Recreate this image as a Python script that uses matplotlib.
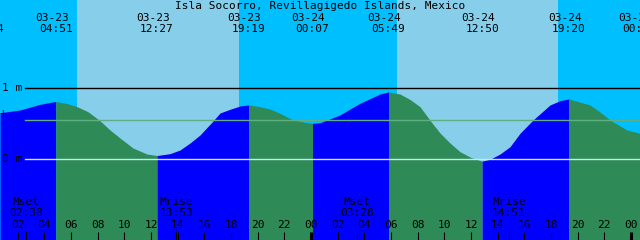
import matplotlib
matplotlib.use('Agg')
import matplotlib.pyplot as plt
import numpy as np

title = 'Isla Socorro, Revillagigedo Islands, Mexico'

# tide curve (hours from 03-23 00:00, metres)
tide_hours = [0.675, 2.175, 3.675, 4.85, 5.7, 6.45, 7.275, 8.175, 8.925, 9.675, 10.65, 11.7,
              12.45, 13.425, 14.175, 14.925, 15.675, 16.65, 17.175, 17.925, 18.675, 19.317,
              20.175, 20.925, 21.675, 22.65, 23.7, 24.117, 24.675, 26.175, 26.925, 27.675,
              29.175, 29.817, 30.675, 31.425, 32.175, 32.925, 33.675, 34.425, 35.175, 36.0,
              36.833, 37.425, 38.175, 38.925, 39.675, 40.65, 41.925, 42.675, 43.333, 44.925,
              45.675, 46.425, 47.7, 48.675]
tide_height = [0.652, 0.69, 0.77, 0.81, 0.782, 0.737, 0.666, 0.539, 0.408, 0.296, 0.155, 0.07,
               0.049, 0.075, 0.127, 0.225, 0.338, 0.535, 0.648, 0.70, 0.746, 0.762,
               0.737, 0.704, 0.644, 0.549, 0.511, 0.503, 0.511, 0.62, 0.704, 0.785,
               0.915, 0.945, 0.915, 0.838, 0.737, 0.545, 0.366, 0.225, 0.103, 0.021,
               -0.03, -0.004, 0.07, 0.173, 0.362, 0.549, 0.761, 0.821, 0.846, 0.761,
               0.662, 0.549, 0.408, 0.362]

# high / low tide events
event_hours = [-0.267, 4.85, 12.45, 19.317, 24.117, 29.817, 36.833, 43.333, 48.633]
event_kind = ['L', 'H', 'L', 'H', 'L', 'H', 'L', 'H', 'L']
event_date = ['03-22', '03-23', '03-23', '03-23', '03-24', '03-24', '03-24', '03-24', '03-25']
event_time = ['23:44', '04:51', '12:27', '19:19', '00:07', '05:49', '12:50', '19:20', '00:38']

# sunrise / sunset
sun_rise = [6.45, 30.45]
sun_set = [18.6, 42.52]

# moon events
moon_hours = [2.633, 13.883, 27.467, 38.85]
moon_name = ['Mset', 'Mrise', 'Mset', 'Mrise']
moon_time = ['02:38', '13:53', '03:28', '14:51']

mean_level = 0.549
t0, t1 = 0.675, 48.675

# pixel helpers (image is 640x240, 13.333 px per hour, 71 px per metre, 0 m at row 159)
def px(x):
    return (x + 9) / 13.3333

def py(y):
    return (159 - y) / 71.0

fig = plt.figure(figsize=(6.4, 2.4), dpi=100)
ax = fig.add_axes([0, 0, 1, 1])
ax.set_xlim(t0, t1)
ax.set_ylim(py(240), py(0))
ax.axis('off')

# sky: night / day
ax.axvspan(t0, t1, color='#00BFFF', zorder=0, lw=0)
for a, b in zip(sun_rise, sun_set):
    ax.axvspan(a, b, color='#87CEEB', zorder=0, lw=0)

# water: blue while rising, green while falling
t = np.array(tide_hours)
h = np.array(tide_height)
for i in range(len(event_hours) - 1):
    a = event_hours[i]
    b = event_hours[i + 1] if i + 1 < len(event_hours) - 1 else 50
    c = '#0000FF' if event_kind[i + 1] == 'H' else '#2E8B57'
    m = (t >= a) & (t <= b)
    ax.fill_between(t[m], h[m], py(240), color=c, lw=0, zorder=1)

# reference lines
ax.plot([px(25), t1], [1, 1], color='black', lw=1.0, zorder=2)
ax.plot([px(25), t1], [mean_level, mean_level], color='#5FAF80', lw=1.0, zorder=2)
ax.plot([px(25), t1], [0, 0], color='#C8E8F0', lw=1.0, zorder=2)

fs = 8
font = 'DejaVu Sans Mono'
ax.text(px(2), 1, '1 m', fontsize=fs, family=font, va='center', ha='left', zorder=3)
ax.text(px(2), 0, '0 m', fontsize=fs, family=font, va='center', ha='left', zorder=3)
ax.text(px(0), py(113), '+', fontsize=fs, family=font, va='center', ha='left', zorder=3)

ax.text(px(320), py(6), title, fontsize=fs, family=font, ha='center', va='center', zorder=3)

for e, d, tm in zip(event_hours, event_date, event_time):
    x = e * 13.3333 - 9
    ax.text(px(x - 4), py(18), d, fontsize=fs, family=font, ha='center', va='center', zorder=3)
    ax.text(e, py(29.5), tm, fontsize=fs, family=font, ha='center', va='center', zorder=3)

for m, n, tm in zip(moon_hours, moon_name, moon_time):
    ax.text(m, py(202), n, fontsize=fs, family=font, ha='center', va='center', zorder=3)
    ax.text(m, py(213.5), tm, fontsize=fs, family=font, ha='center', va='center', zorder=3)
    ax.plot([m, m], [py(232), py(240)], color='black', lw=0.8, zorder=3)

# hour ticks
for hr in range(2, 49, 2):
    lab = '%02d' % (hr % 24)
    ax.text(hr, py(225.5), lab, fontsize=fs, family=font, ha='center', va='center', zorder=3)
    w = 2.2 if hr % 24 == 0 else 0.8
    ax.plot([hr, hr], [py(232), py(240)], color='black', lw=w, zorder=3, solid_capstyle='butt')

fig.savefig('out.png', dpi=100)
